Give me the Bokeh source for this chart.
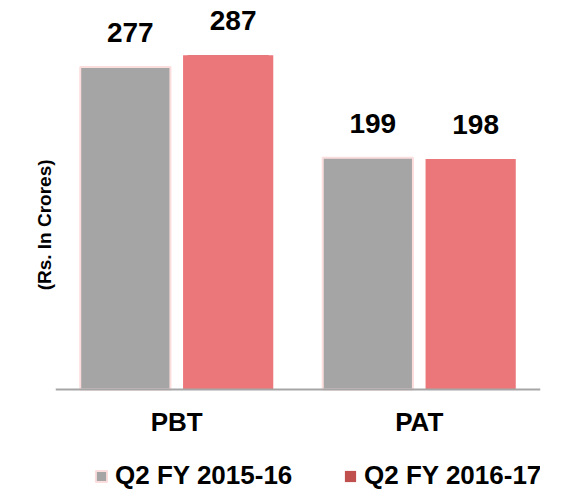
from bokeh.plotting import figure
from bokeh.models import (FactorRange, Range1d, Legend, LegendItem,
                          ColumnDataSource, FixedTicker, LabelSet, Span)
from bokeh.transform import dodge
from bokeh.core.properties import value
from bokeh.embed import file_html
from bokeh.resources import INLINE

categories = ["PBT", "PAT"]
q2_fy2015_16 = [277, 199]
q2_fy2016_17 = [287, 198]
series_names = ["Q2 FY 2015-16", "Q2 FY 2016-17"]
y_label = "(Rs. In Crores)"

FONT = "Liberation Sans"
GRAY = "#A5A5A5"
RED = "#EB777B"
PINK_EDGE = "#FCDDDD"
RED_SWATCH = "#C0504D"

src = ColumnDataSource(dict(
    cat=categories,
    zero=[0] * len(categories),
    a=q2_fy2015_16,
    b=q2_fy2016_17,
    la=[str(v) for v in q2_fy2015_16],
    lb=[str(v) for v in q2_fy2016_17],
))

p = figure(x_range=FactorRange(*categories, range_padding=0),
           y_range=Range1d(-87.6, 334),
           width=562, height=491,
           output_backend="svg", toolbar_location=None,
           min_border_left=55, min_border_right=22,
           min_border_top=0, min_border_bottom=0)

p.outline_line_color = None
p.xgrid.visible = False
p.ygrid.visible = False
p.xaxis.visible = False
p.background_fill_color = "white"
p.border_fill_color = "white"

bw = 0.372
off = 0.212
r1 = p.vbar(x=dodge("cat", -off, range=p.x_range), top="a", width=bw,
            source=src, fill_color=GRAY, line_color=PINK_EDGE, line_width=2)
# hidden twin of the second series, used only for its (darker) legend swatch
r2_key = p.vbar(x=dodge("cat", off, range=p.x_range), top="b", width=bw * 0.9,
                source=src, fill_color=RED_SWATCH, line_color=None)
r2 = p.vbar(x=dodge("cat", off, range=p.x_range), top="b", width=bw,
            source=src, fill_color=RED, line_color=None)

# baseline (category axis line)
p.add_layout(Span(location=0, dimension="width", line_color="#A6A6A6",
                  line_width=2))

for col, lab, dx in (("a", "la", -off), ("b", "lb", off)):
    ls = LabelSet(x=dodge("cat", dx, range=p.x_range), y=col, text=lab,
                  source=src, text_align="center", text_baseline="alphabetic",
                  x_offset=5, y_offset=25,
                  text_font=value(FONT), text_font_style="bold",
                  text_font_size="28px", text_color="black")
    p.add_layout(ls)

# category labels
p.add_layout(LabelSet(x="cat", y="zero", text="cat", source=src,
                      text_align="center", text_baseline="alphabetic",
                      y_offset=-42, text_font=value(FONT),
                      text_font_style="bold", text_font_size="26px",
                      text_color="black"))

# y axis (label only)
p.yaxis.ticker = FixedTicker(ticks=[])
p.yaxis.axis_line_color = None
p.yaxis.major_tick_line_color = None
p.yaxis.minor_tick_line_color = None
p.yaxis.major_label_text_font_size = "0px"
p.yaxis.axis_label = "\u00a0" * 8 + y_label
p.yaxis.axis_label_text_font = FONT
p.yaxis.axis_label_text_font_style = "bold"
p.yaxis.axis_label_text_font_size = "19px"
p.yaxis.axis_label_text_color = "black"
p.yaxis.axis_label_standoff = 1

legend = Legend(items=[LegendItem(label=series_names[0], renderers=[r1]),
                       LegendItem(label=series_names[1], renderers=[r2_key])],
                location=(39, 0), orientation="horizontal",
                glyph_width=14, glyph_height=14, label_standoff=7,
                label_width=228, spacing=0, padding=0, margin=0,
                border_line_color=None, background_fill_alpha=0,
                label_text_font=FONT, label_text_font_style="bold",
                label_text_font_size="26px", label_text_color="black")
p.add_layout(legend, "center")

open("out.html", "w").write(file_html(p, INLINE))
